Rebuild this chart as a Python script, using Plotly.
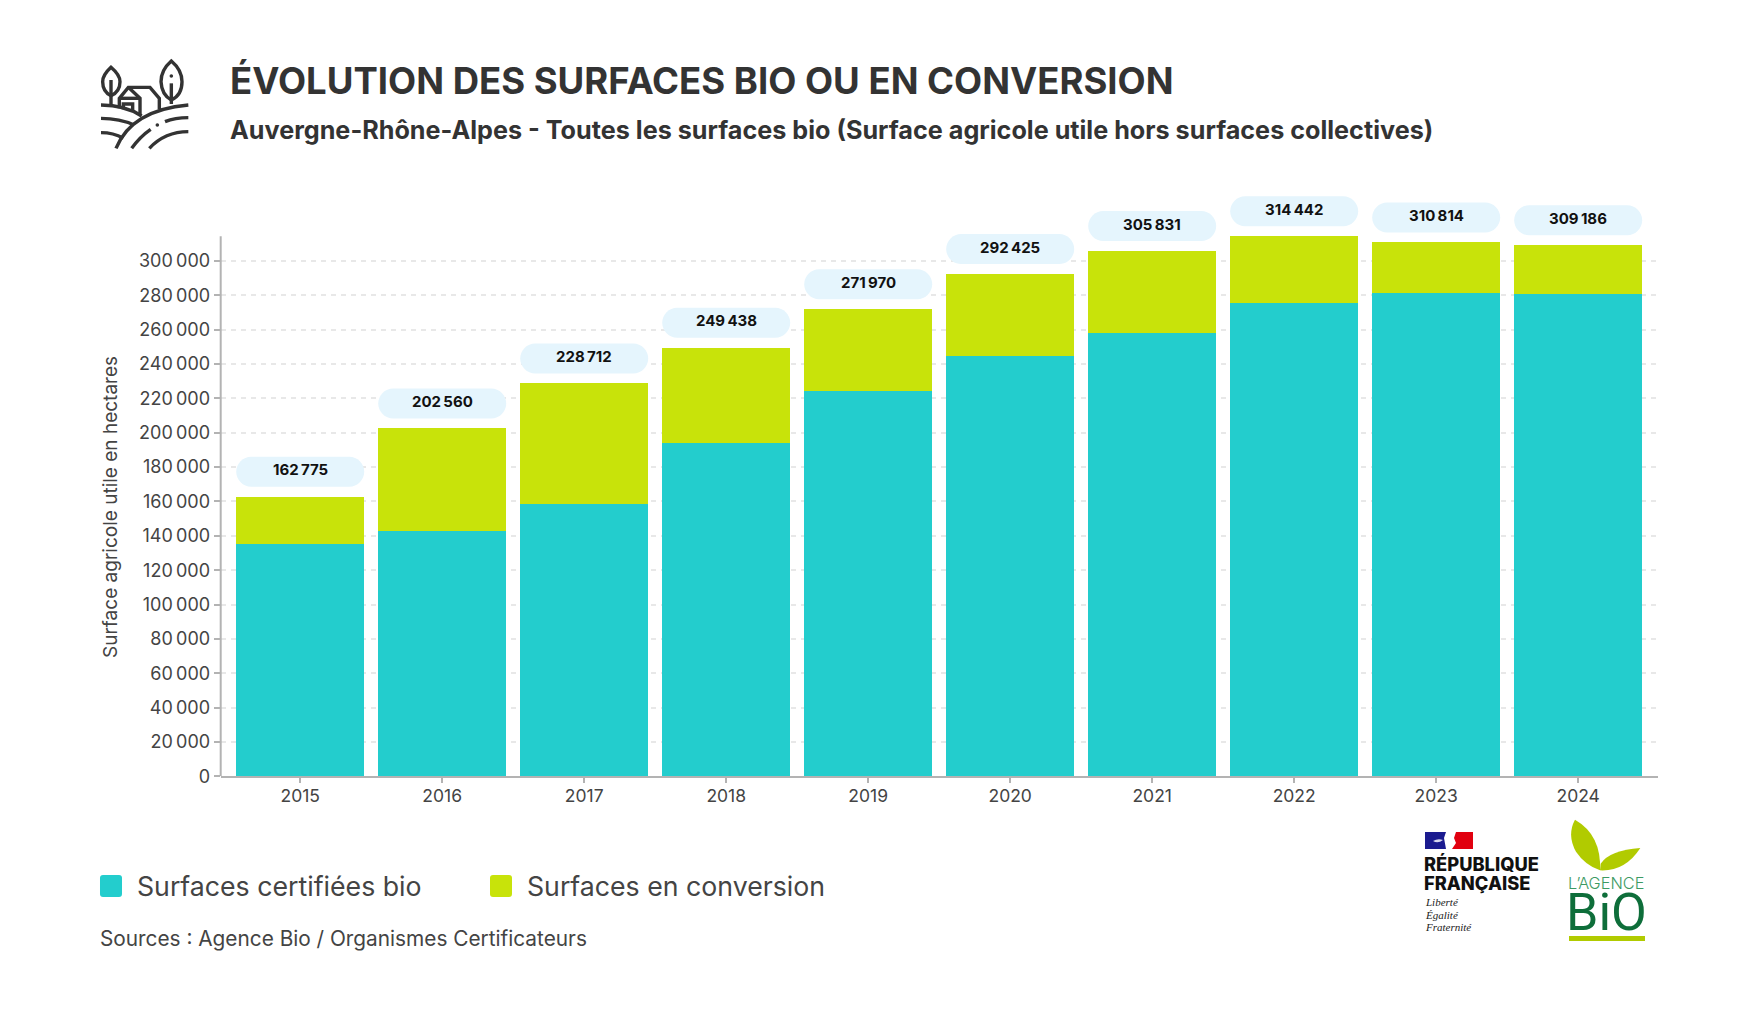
import plotly.graph_objects as go

years = [2015, 2016, 2017, 2018, 2019, 2020, 2021, 2022, 2023, 2024]
certified = [135060, 142630, 158350, 194040, 224140, 244510, 257900, 275370, 281190, 280600]
conversion = [27715, 59930, 70362, 55398, 47830, 47915, 47931, 39072, 29624, 28586]
totals = [162775, 202560, 228712, 249438, 271970, 292425, 305831, 314442, 310814, 309186]
series_names = ["Surfaces certifiées bio", "Surfaces en conversion"]
y_ticks = [0, 20000, 40000, 60000, 80000, 100000, 120000, 140000, 160000, 180000, 200000,
           220000, 240000, 260000, 280000, 300000]

TEAL = "#23CDCD"
LIME = "#C8E30A"
INK = "#333333"
SOFT = "#444444"
W, H = 1758, 1016
FONT = "Inter"


def X(v):
    return v / W


def Y(v):
    return 1 - v / H


def pth(segments):
    out = []
    for seg in segments:
        c = seg[0]
        pts = " ".join(f"{X(p[0]):.5f},{Y(p[1]):.5f}" for p in seg[1:])
        out.append(f"{c}{pts}")
    return " ".join(out)


def page_shape(segments, fill=None, stroke=None, width=0):
    d = dict(type="path", xref="paper", yref="paper", path=pth(segments), layer="above")
    d["fillcolor"] = fill if fill else "rgba(0,0,0,0)"
    d["line"] = dict(color=stroke if stroke else "rgba(0,0,0,0)", width=width)
    return d


def rrect(x0, y0, x1, y1, r):
    return [("M", (x0 + r, y0)), ("L", (x1 - r, y0)), ("Q", (x1, y0), (x1, y0 + r)),
            ("L", (x1, y1 - r)), ("Q", (x1, y1), (x1 - r, y1)), ("L", (x0 + r, y1)),
            ("Q", (x0, y1), (x0, y1 - r)), ("L", (x0, y0 + r)), ("Q", (x0, y0), (x0 + r, y0)), ("Z",)]


def text(s, x, y, size, color=INK, weight=400, family=FONT, italic=False, anchor="left"):
    return dict(text=s, xref="paper", yref="paper", x=X(x), y=Y(y), xanchor=anchor, yanchor="middle",
                showarrow=False, borderpad=0,
                font=dict(size=size, color=color, family=family, weight=weight,
                          style="italic" if italic else "normal"))


fig = go.Figure()
fig.add_bar(x=years, y=certified, name=series_names[0], marker=dict(color=TEAL, line_width=0), width=0.9014)
fig.add_bar(x=years, y=conversion, name=series_names[1], marker=dict(color=LIME, line_width=0), width=0.9014)

shapes = []
annotations = []

# value axis line stops at the tallest bar
shapes.append(dict(type="line", xref="paper", yref="y", x0=X(220.7), x1=X(220.7), y0=0, y1=max(totals),
                   line=dict(color="#B3B3B3", width=2), layer="above"))

# value pills above the bars
for yr, tot in zip(years, totals):
    a, b, h0, h1, r = -64, 64, 10, 40, 15
    k = r * 0.45
    pill = (f"M{a + r},{h1} L{b - r},{h1} C{b - k},{h1} {b},{h1 - k} {b},{h1 - r} "
            f"C{b},{h0 + k} {b - k},{h0} {b - r},{h0} L{a + r},{h0} "
            f"C{a + k},{h0} {a},{h0 + k} {a},{h0 + r} C{a},{h1 - k} {a + k},{h1} {a + r},{h1} Z")
    shapes.append(dict(type="path", xref="x", yref="y", xsizemode="pixel", ysizemode="pixel",
                       xanchor=yr, yanchor=tot, path=pill, fillcolor="#E5F5FD",
                       line=dict(width=0), layer="above"))
    annotations.append(dict(x=yr, y=tot, xref="x", yref="y", yshift=27, showarrow=False,
                            text=f"{tot:,}".replace(",", "\u202f"), yanchor="middle",
                            font=dict(size=15, color="#111111", family=FONT, weight=700)))

# headings
annotations.append(text("ÉVOLUTION DES SURFACES BIO OU EN CONVERSION", 229, 81, 36.5, weight=700))
annotations.append(text("Auvergne-Rhône-Alpes - Toutes les surfaces bio (Surface agricole utile hors surfaces collectives)",
                        229, 130, 25.2, weight=700))

# axis title, centred on the drawn part of the value axis
annotations.append(dict(text="Surface agricole utile en hectares", xref="paper", yref="paper",
                        x=X(110), y=Y(507), xanchor="center", yanchor="middle", textangle=-90, showarrow=False,
                        font=dict(size=19, color=SOFT, family=FONT)))

# legend
shapes.append(page_shape(rrect(100, 875, 122, 897, 3), fill=TEAL))
annotations.append(text(series_names[0], 136, 886, 26.7, color=SOFT))
shapes.append(page_shape(rrect(490, 875, 512, 897, 3), fill=LIME))
annotations.append(text(series_names[1], 526, 886, 26.7, color=SOFT))
annotations.append(text("Sources : Agence Bio / Organismes Certificateurs", 99, 938, 20.8, color=SOFT))

# farm pictogram (coordinates in page pixels)
ix = lambda x, y: (60 + x / 3, 30 + y / 3)
ICON_W = 3.4
icon_paths = [
    [("M", ix(153, 112)), ("Q", ix(128, 135), ix(128, 155)), ("Q", ix(128, 185), ix(153, 197)),
     ("Q", ix(180, 185), ix(180, 155)), ("Q", ix(180, 135), ix(153, 112)), ("Z",)],
    [("M", ix(153, 150)), ("L", ix(153, 225))],
    [("M", ix(334, 93)), ("Q", ix(303, 120), ix(303, 155)), ("Q", ix(305, 195), ix(334, 210)),
     ("Q", ix(366, 195), ix(366, 155)), ("Q", ix(366, 120), ix(334, 93)), ("Z",)],
    [("M", ix(334, 160)), ("L", ix(334, 222))],
    [("M", ix(123, 225)), ("Q", ix(195, 225), ix(245, 258))],
    [("M", ix(168, 355)), ("Q", ix(215, 240), ix(385, 225))],
    [("M", ix(123, 265)), ("Q", ix(180, 265), ix(222, 285))],
    [("M", ix(123, 308)), ("Q", ix(160, 308), ix(190, 325))],
    [("M", ix(215, 355)), ("Q", ix(240, 320), ix(272, 298))],
    [("M", ix(315, 275)), ("Q", ix(345, 263), ix(385, 263))],
    [("M", ix(268, 355)), ("Q", ix(315, 305), ix(385, 305))],
    [("M", ix(178, 235)), ("L", ix(178, 205)), ("L", ix(205, 172)), ("L", ix(270, 172)),
     ("L", ix(298, 205)), ("L", ix(298, 238))],
    [("M", ix(205, 172)), ("L", ix(240, 205)), ("L", ix(240, 255))],
    [("M", ix(178, 205)), ("L", ix(240, 205))],
    [("M", ix(190, 238)), ("L", ix(190, 222)), ("L", ix(218, 222)), ("L", ix(218, 242))],
]
for p in icon_paths:
    shapes.append(page_shape(p, stroke=INK, width=ICON_W))
for cx, cy, rad in [(334, 138, 1.8), (292, 285, 1.8)]:
    c = ix(cx, cy)
    shapes.append(dict(type="circle", xref="paper", yref="paper", x0=X(c[0] - rad), x1=X(c[0] + rad),
                       y0=Y(c[1] + rad), y1=Y(c[1] - rad), fillcolor=INK, line_width=0, layer="above"))

# République française block
shapes.append(page_shape([("M", (1425, 832)), ("L", (1446, 832)), ("L", (1444, 838)), ("L", (1446, 849)),
                          ("L", (1425, 849)), ("Z",)], fill="#1B1B8F"))
shapes.append(page_shape([("M", (1456, 832)), ("L", (1473, 832)), ("L", (1473, 849)), ("L", (1452, 849)),
                          ("L", (1456, 843)), ("L", (1454, 838)), ("Z",)], fill="#E1000F"))
shapes.append(page_shape([("M", (1433, 841)), ("Q", (1438, 838), (1443, 840)), ("Q", (1438, 844), (1433, 841)), ("Z",)],
                         fill="#D8D8EE"))
annotations.append(text("RÉPUBLIQUE", 1423, 864, 18.3, color="#111111", weight=800))
annotations.append(text("FRANÇAISE", 1423, 883, 18.3, color="#111111", weight=800))
for label, yy in [("Liberté", 902), ("Égalité", 915), ("Fraternité", 927)]:
    annotations.append(text(label, 1424, yy, 11, color="#222222", family="Liberation Serif", italic=True))

# Agence Bio block
ax = lambda x, y: (1560 + x / 3, 815 + y / 3)
LEAF = "#B1CB00"
shapes.append(page_shape([("M", ax(45, 14)), ("Q", ax(20, 60), ax(48, 110)), ("Q", ax(75, 150), ax(120, 166)),
                          ("Q", ax(125, 60), ax(45, 14)), ("Z",)], fill=LEAF))
shapes.append(page_shape([("M", ax(241, 99)), ("Q", ax(150, 105), ax(122, 146)), ("L", ax(120, 166)),
                          ("Q", ax(195, 170), ax(241, 99)), ("Z",)], fill=LEAF))
annotations.append(text("L’AGENCE", 1567, 883, 16.3, color="#3D9A63", weight=300))
annotations.append(text("BiO", 1565, 912, 52, color="#0E6E3A", family="Roboto", weight=400))
shapes.append(page_shape([("M", (1569, 936)), ("L", (1645, 936)), ("L", (1645, 941)), ("L", (1569, 941)), ("Z",)], fill=LEAF))

fig.update_layout(
    barmode="stack",
    width=W, height=H,
    margin=dict(l=0, r=0, t=0, b=0, pad=0),
    paper_bgcolor="white", plot_bgcolor="white",
    showlegend=False,
    separators=",\u202f",
    font=dict(family=FONT, color=INK),
    shapes=shapes, annotations=annotations,
    xaxis=dict(domain=[X(220.7), X(1657.7)], range=[2014.44, 2024.56], tickmode="array", tickvals=years, automargin=False,
               tickformat="d", showgrid=False, zeroline=False, showline=True, linecolor="#B3B3B3", linewidth=2,
               ticks="outside", ticklen=5, tickwidth=1.5, tickcolor="#B3B3B3", ticklabelstandoff=-2,
               tickfont=dict(size=17.5, color=SOFT, family=FONT)),
    yaxis=dict(domain=[Y(776.3), Y(170)], range=[0, 353000], tickmode="array", tickvals=y_ticks, tickformat=",d",
               automargin=False,
               showgrid=True, gridcolor="#E8E8E8", gridwidth=2, griddash="5px,5px", zeroline=False,
               showline=False, ticks="outside", ticklen=6, tickwidth=1.5,
               tickcolor="#B3B3B3", tickfont=dict(size=18, color=SOFT, family=FONT)),
)

page_reset = "document.body.style.margin='0';document.body.style.overflow='hidden';"
fig.write_html("out.html", config={"displayModeBar": False}, post_script=page_reset)
